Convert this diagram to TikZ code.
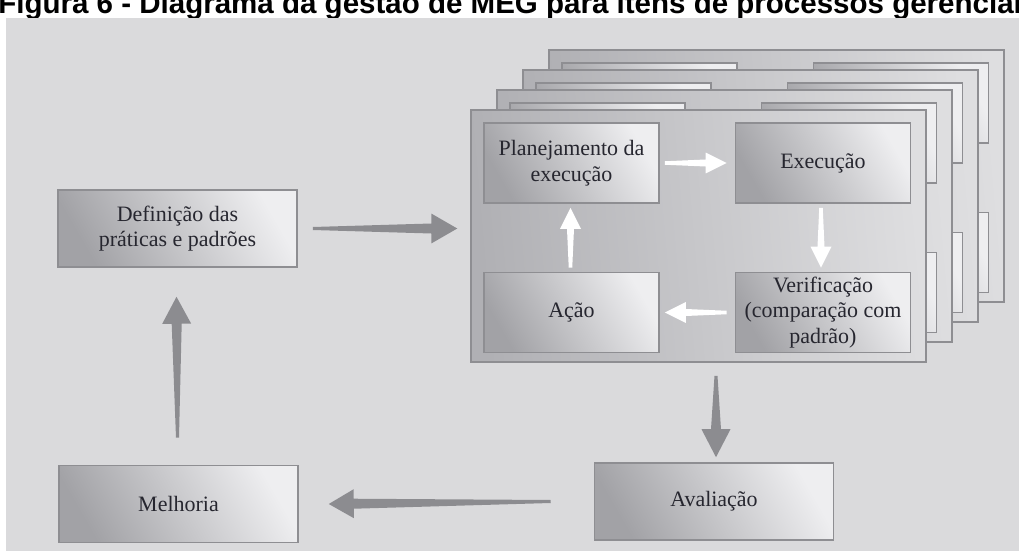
\documentclass[tikz,border=0pt]{standalone}
\usepackage{fontspec}
\setmainfont{Liberation Serif}
\newfontfamily\titlefont{Liberation Sans}
\usetikzlibrary{calc}

\definecolor{bggray}{HTML}{DADADC}
\definecolor{edgegray}{HTML}{8E8E92}
\definecolor{arrowgray}{HTML}{8C8C90}
\definecolor{darkfill}{HTML}{A2A2A6}
\definecolor{lightfill}{HTML}{EEEEF0}
\definecolor{framel}{HTML}{B0B0B4}
\definecolor{framer}{HTML}{DEDEE0}
\definecolor{inktext}{HTML}{26262F}

% tapered arrow: colour, from, to, tail half, neck half, head half, head length
\newcommand{\taperarrow}[7]{%
  \path ($(#3)!#7!(#2)$) coordinate (neck);
  \fill[#1] ($(#2)!#4!90:(#3)$) -- ($(neck)!#5!90:(#3)$) -- ($(neck)!#6!90:(#3)$) -- (#3)
    -- ($(neck)!#6!-90:(#3)$) -- ($(neck)!#5!-90:(#3)$) -- ($(#2)!#4!-90:(#3)$) -- cycle;}

\tikzset{
  layer/.style={draw=edgegray, line width=0.9pt, left color=framel, right color=framer,
    shading angle=95, minimum width=9.1cm, minimum height=5.04cm, inner sep=0pt},
  cell/.style={draw=edgegray, line width=0.9pt, left color=darkfill, right color=lightfill,
    shading angle=120, minimum width=3.5cm, minimum height=1.6cm, inner sep=2pt,
    align=center, text=inktext, font=\fontsize{12.5}{14.5}\selectfont},
  stage/.style={cell, minimum width=4.78cm, minimum height=1.54cm}
}

\begin{document}
\begin{tikzpicture}[x=0.02cm, y=-0.02cm]
    \useasboundingbox (0,0) rectangle (1019,551);

    % caption, cut by the page edge
    \node[anchor=base west, inner sep=0pt, font=\titlefont\bfseries\fontsize{16.8}{18}\selectfont]
      (title) at (-2,13) {Figura 6 - Diagrama da gestão de MEG para itens de processos gerenciais};
    \fill[bggray] (6,18) rectangle (1019,551);

    % stacked cycles behind
    \foreach \i in {3,2,1} {
      \begin{scope}[shift={(26*\i,-20*\i)}]
        \node[layer] at (698.5,236) {};
        \node[cell] at (571.5,163) {};
        \node[cell] at (823,163) {};
        \node[cell] at (571.5,312.5) {};
        \node[cell] at (823,312.5) {};
      \end{scope}
    }

    % front cycle
    \node[layer] (frame) at (698.5,236) {};
    \node[cell] (plan) at (571.5,163) {Planejamento da\\execução};
    \node[cell] (exec) at (823,163) {Execução};
    \node[cell] (acao) at (571.5,312.5) {Ação};
    \node[cell] (verif) at (823,312.5) {Verificação\\(comparação com\\padrão)};

    % outer stages
    \node[stage] (def) at (177.5,228.5) {Definição das\\práticas e padrões};
    \node[stage] (mel) at (178.5,504) {Melhoria};
    \node[stage] (aval) at (714,501.5) {Avaliação};

    % white arrows inside the cycle
    \coordinate (w1) at ($(plan.east)+(5,0)$);
    \coordinate (w2) at ($(exec.west)+(-8,0)$);
    \coordinate (w3) at ($(exec.south)+(-2,4)$);
    \coordinate (w4) at ($(verif.north)+(-2,-4)$);
    \coordinate (w5) at ($(verif.west)+(-8,0)$);
    \coordinate (w6) at ($(acao.east)+(5,0)$);
    \coordinate (w7) at ($(acao.north)+(-1,-4)$);
    \coordinate (w8) at ($(plan.south)+(-1,4)$);
    \taperarrow{white}{w1}{w2}{0.035cm}{0.07cm}{0.21cm}{0.42cm}
    \taperarrow{white}{w3}{w4}{0.035cm}{0.07cm}{0.21cm}{0.42cm}
    \taperarrow{white}{w5}{w6}{0.035cm}{0.07cm}{0.21cm}{0.42cm}
    \taperarrow{white}{w7}{w8}{0.035cm}{0.07cm}{0.21cm}{0.42cm}

    % grey arrows between stages
    \coordinate (g1) at ($(def.east)+(15,0)$);
    \coordinate (g2) at ($(frame.west |- def.east)+(-13,0)$);
    \coordinate (g3) at ($(frame.south -| aval.north)+(2,13)$);
    \coordinate (g4) at ($(aval.north)+(2,-5)$);
    \coordinate (g5) at ($(aval.west)+(-43,0)$);
    \coordinate (g6) at ($(mel.east)+(30,0)$);
    \coordinate (g7) at ($(mel.north)+(-1,-27)$);
    \coordinate (g8) at ($(def.south)+(-1,29)$);
    \taperarrow{arrowgray}{g1}{g2}{0.03cm}{0.1cm}{0.3cm}{0.52cm}
    \taperarrow{arrowgray}{g3}{g4}{0.03cm}{0.1cm}{0.29cm}{0.56cm}
    \taperarrow{arrowgray}{g5}{g6}{0.03cm}{0.1cm}{0.29cm}{0.5cm}
    \taperarrow{arrowgray}{g7}{g8}{0.03cm}{0.1cm}{0.29cm}{0.54cm}
\end{tikzpicture}
\end{document}
